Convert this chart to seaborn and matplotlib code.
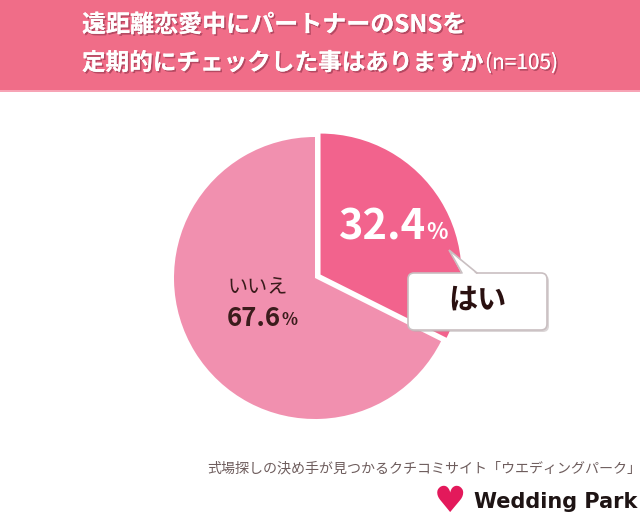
import matplotlib
matplotlib.use("Agg")
import matplotlib.pyplot as plt
import matplotlib.patches as mpatches
import matplotlib.patheffects as pe
import seaborn as sns

# ---- data ----
labels = ["はい", "いいえ"]
values = [32.4, 67.6]
value_labels = ["32.4", "67.6"]
title_lines = ["遠距離恋愛中にパートナーのSNSを", "定期的にチェックした事はありますか"]
sample_note = "(n=105)"
footer_text = "式場探しの決め手が見つかるクチコミサイト「ウエディングパーク」"
brand = "Wedding Park"

sns.set_theme(style="white")
plt.rcParams["font.family"] = ["Noto Sans CJK JP", "DejaVu Sans"]

W, H = 640, 521
fig = plt.figure(figsize=(6.4, 5.21), dpi=100)
ax = fig.add_axes([0, 0, 1, 1])
ax.set_axis_off()

def Y(y):
    return H - y

pal = sns.color_palette(["#F2638D", "#F190AF"])
header_col = "#F06D88"

# header band
ax.add_patch(mpatches.Rectangle((0, Y(91)), W, 91, facecolor=header_col, edgecolor="none", zorder=1))
ax.add_patch(mpatches.Rectangle((0, Y(92)), W, 2, facecolor="#F7A3B5", edgecolor="none", zorder=1))

shadow = [pe.withSimplePatchShadow(offset=(1.2, -1.2), shadow_rgbFace="#9c3a52", alpha=0.7), pe.Normal()]
t1 = ax.text(82, Y(25), title_lines[0], color="white", fontsize=17.3, fontweight="bold",
             ha="left", va="center", zorder=3, path_effects=shadow)
t2 = ax.text(82, Y(63), title_lines[1], color="white", fontsize=17, fontweight="bold",
             ha="left", va="center", zorder=3, path_effects=shadow)
ax.annotate(sample_note, xy=(1, 0.5), xycoords=t2, xytext=(1, 0), textcoords="offset points",
            color="white", fontsize=15, ha="left", va="center", zorder=3, path_effects=shadow)

# pie (explode given in data units = pixels here)
wedges, _ = ax.pie(values, colors=pal, startangle=90, counterclock=False,
                   explode=[6.5, 0], radius=141, center=(315, Y(278)),
                   wedgeprops=dict(linewidth=0), frame=True)
for w in wedges:
    w.set_zorder(2)

# slice labels
tv = ax.text(339, Y(228), value_labels[0], color="white", fontsize=30, fontweight="bold",
             ha="left", va="center", zorder=4)
ax.annotate("%", xy=(1, 0.12), xycoords=tv, xytext=(0, 0), textcoords="offset points",
            color="white", fontsize=16, fontweight="bold", ha="left", va="bottom", zorder=4)

ax.text(228, Y(287), labels[1], color="#3b1c1c", fontsize=14.5, ha="left", va="center", zorder=4)
tn = ax.text(227, Y(319), value_labels[1], color="#3b1c1c", fontsize=18.5, fontweight="bold",
             ha="left", va="center", zorder=4)
ax.annotate("%", xy=(1, 0.12), xycoords=tn, xytext=(0, 0), textcoords="offset points",
            color="#3b1c1c", fontsize=12, fontweight="bold", ha="left", va="bottom", zorder=4)

# callout box
bx0, by0, bx1, by1 = 408, 273, 547, 330
ax.add_patch(mpatches.FancyBboxPatch((bx0 + 2, Y(by1) - 2), bx1 - bx0, by1 - by0,
                                     boxstyle="round,pad=0,rounding_size=6",
                                     facecolor="#b9aeb0", edgecolor="none", alpha=0.5, zorder=5))
ax.add_patch(mpatches.FancyBboxPatch((bx0, Y(by1)), bx1 - bx0, by1 - by0,
                                     boxstyle="round,pad=0,rounding_size=6",
                                     facecolor="white", edgecolor="#c9bfc1", linewidth=1.2, zorder=6))
tip = (449, Y(250))
pl = (462, Y(by0))
pr = (477, Y(by0))
ax.add_patch(mpatches.Polygon([tip, (pl[0], pl[1] - 1.5), (pr[0], pr[1] - 1.5)], closed=True,
                              facecolor="white", edgecolor="none", zorder=7))
ax.plot([pl[0], tip[0], pr[0]], [pl[1], tip[1], pr[1]], color="#c9bfc1", linewidth=1.2, zorder=7,
        solid_joinstyle="miter")
ax.text((bx0 + bx1) / 2, Y(300), labels[0], color="#2a1010", fontsize=21, fontweight="bold",
        ha="center", va="center", zorder=8)

# footer
ax.text(207, Y(468), footer_text, color="#6e5d5d", fontsize=10.1, ha="left", va="center", zorder=3)
ax.text(450, Y(502), "\u2665", color="#E3195B", fontsize=26, ha="center", va="center",
        family="DejaVu Sans", zorder=3)
ax.text(637, Y(502), brand, color="#1e1414", fontsize=15, fontweight="bold", ha="right", va="center",
        family="DejaVu Sans", zorder=3)

ax.set_xlim(0, W)
ax.set_ylim(0, H)
ax.set_aspect("auto")

fig.savefig("out.png", dpi=100, facecolor="white")
